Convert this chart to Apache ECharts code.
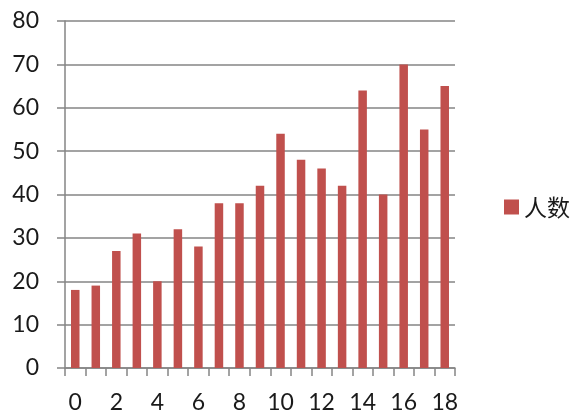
<!DOCTYPE html>
<html>
<head>
<meta charset="utf-8">
<script src="https://cdn.jsdelivr.net/npm/echarts@6/dist/echarts.min.js"></script>
<style>
  html, body { margin: 0; padding: 0; background: #fff; }
  #chart { width: 576px; height: 414px; }
</style>
</head>
<body>
<div id="chart"></div>
<script>
// Categories along the x axis (0..18)
const categories = ['0','1','2','3','4','5','6','7','8','9','10','11','12','13','14','15','16','17','18'];
// Number of people per category
const seriesName = '人数';
const counts = [18, 19, 27, 31, 20, 32, 28, 38, 38, 42, 54, 48, 46, 42, 64, 40, 70, 55, 65];
// Value axis range
const yMin = 0, yMax = 80, yStep = 10;

const axisGray = '#858585';
const labelFont = 'Lato, "Open Sans", sans-serif';

const chart = echarts.init(document.getElementById('chart'), null, { renderer: 'canvas' });
chart.setOption({
  animation: false,
  backgroundColor: '#ffffff',
  grid: { left: 65, right: 121, top: 21, bottom: 42, containLabel: false },
  legend: {
    data: [seriesName],
    orient: 'vertical',
    left: 499,
    top: 'middle',
    itemWidth: 15,
    itemHeight: 15,
    itemGap: 10,
    icon: 'rect',
    textStyle: { fontFamily: '"Noto Sans CJK SC", sans-serif', fontSize: 23, color: '#1a1a1a' }
  },
  xAxis: {
    type: 'category',
    data: categories,
    boundaryGap: true,
    axisLine: { show: true, lineStyle: { color: axisGray, width: 1.5 } },
    axisTick: { show: true, interval: 0, length: 8, inside: false, lineStyle: { color: axisGray, width: 1.5 } },
    axisLabel: { interval: 1, margin: 23, fontFamily: labelFont, fontSize: 23, color: '#1a1a1a' },
    splitLine: { show: false }
  },
  yAxis: {
    type: 'value',
    min: yMin,
    max: yMax,
    interval: yStep,
    axisLine: { show: true, lineStyle: { color: axisGray, width: 1.5 } },
    axisTick: { show: true, length: 8, lineStyle: { color: axisGray, width: 1.5 } },
    axisLabel: { margin: 26, fontFamily: labelFont, fontSize: 23, color: '#1a1a1a' },
    splitLine: { show: true, lineStyle: { color: axisGray, width: 1.5 } }
  },
  series: [{
    name: seriesName,
    type: 'bar',
    data: counts,
    barWidth: 8.5,
    itemStyle: { color: '#c0504d' }
  }]
});
</script>
</body>
</html>
